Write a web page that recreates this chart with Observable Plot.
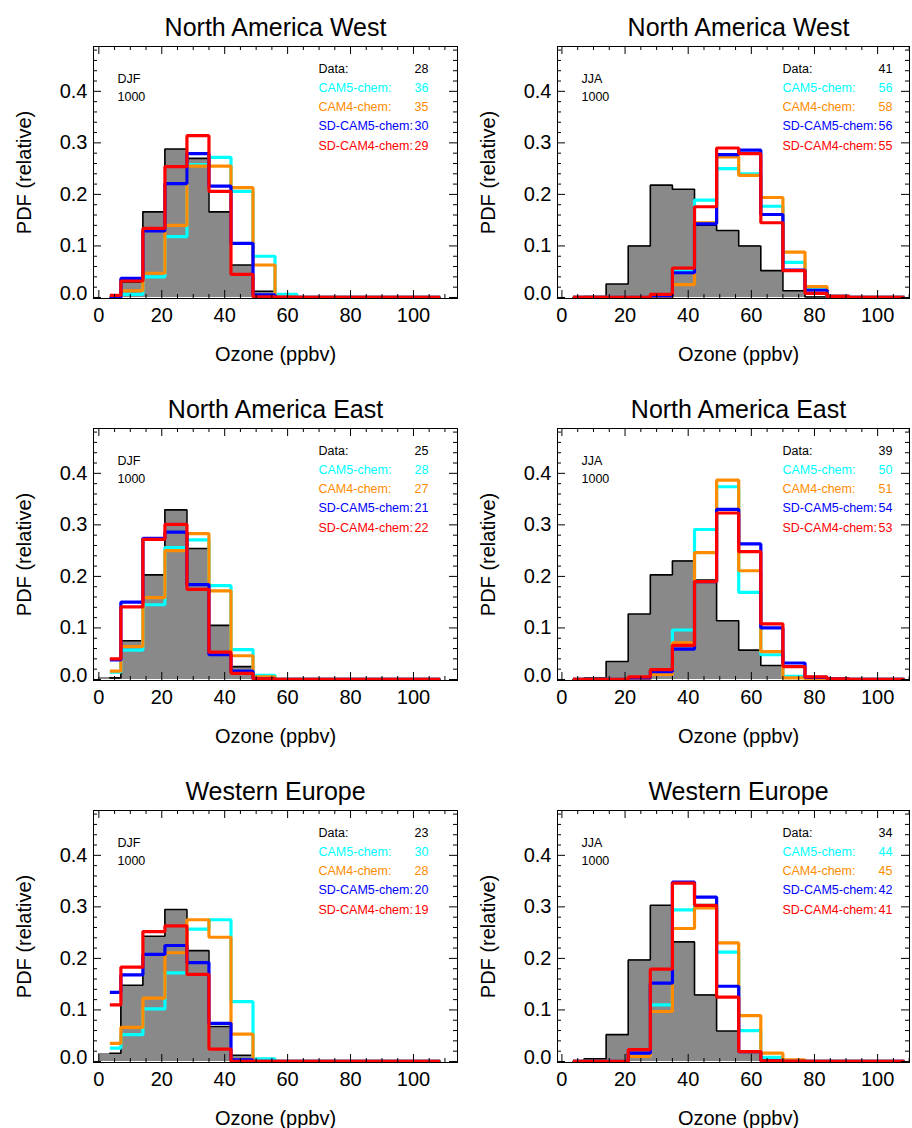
<!DOCTYPE html>
<html><head><meta charset="utf-8">
<script src="https://cdn.jsdelivr.net/npm/d3@7"></script>
<script src="https://cdn.jsdelivr.net/npm/@observablehq/plot@0.6"></script>
<style>
body{margin:0;background:#fff;}
#root{position:relative;width:912px;height:1128px;overflow:hidden;background:#fff;}
#root svg{position:absolute;overflow:visible;}
</style></head>
<body><div id="root"></div>
<script>
// ---------- categories / ticks ----------
const binCenters = [3.5,10.5,17.5,24.5,31.5,38.5,45.5,52.5,59.5,66.5,73.5,80.5,87.5,94.5,101.5,108.5];
const binWidth = 7;
const seriesNames = ["Data:","CAM5-chem:","CAM4-chem:","SD-CAM5-chem:","SD-CAM4-chem:"];
const seriesColors = ["#000000","#00ffff","#ff8c00","#0000ff","#ff0000"];
const regions = ["North America West","North America East","Western Europe"];
const seasons = ["DJF","JJA"];
const levelLabel = "1000";
const xMajorTicks = [0,20,40,60,80,100];
const xMinorTicks = [5,10,15,25,30,35,45,50,55,65,70,75,85,90,95,105,110];
const yMajorTicks = [0,0.1,0.2,0.3,0.4];
const yMinorTicks = [0.02,0.04,0.06,0.08,0.12,0.14,0.16,0.18,0.22,0.24,0.26,0.28,0.32,0.34,0.36,0.38,0.42,0.44,0.46,0.48];

// ---------- North America West, DJF ----------
const nawDjfData   = [0,0.03,0.166,0.288,0.27,0.166,0.063,0.012,0,0,0,0,0,0,0,0];
const nawDjfCam5   = [0.001,0.006,0.04,0.118,0.258,0.272,0.206,0.08,0.006,0,0,0,0,0,0,0];
const nawDjfCam4   = [0.001,0.013,0.047,0.14,0.255,0.255,0.213,0.063,0.001,0,0,0,0,0,0,0];
const nawDjfSdCam5 = [0,0.037,0.129,0.221,0.279,0.216,0.105,0.005,0,0,0,0,0,0,0,0];
const nawDjfSdCam4 = [0.004,0.032,0.134,0.254,0.314,0.206,0.045,0.001,0,0,0,0,0,0,0,0];
const nawDjfMeans  = [28,36,35,30,29];
// ---------- North America West, JJA ----------
const nawJjaData   = [0,0.002,0.026,0.1,0.218,0.21,0.14,0.13,0.1,0.052,0.013,0.001,0,0,0,0];
const nawJjaCam5   = [0,0,0,0,0.003,0.052,0.189,0.25,0.24,0.177,0.068,0.016,0.002,0,0,0];
const nawJjaCam4   = [0,0,0,0,0,0.025,0.145,0.273,0.237,0.194,0.088,0.021,0.002,0,0,0];
const nawJjaSdCam5 = [0,0,0,0,0.003,0.048,0.143,0.277,0.286,0.161,0.053,0.014,0.002,0,0,0];
const nawJjaSdCam4 = [0,0,0,0,0.006,0.057,0.176,0.29,0.279,0.145,0.052,0.008,0.002,0,0,0];
const nawJjaMeans  = [41,56,58,56,55];
// ---------- North America East, DJF ----------
const naeDjfData   = [0.003,0.075,0.203,0.329,0.254,0.105,0.025,0.001,0,0,0,0,0,0,0,0];
const naeDjfCam5   = [0.014,0.057,0.145,0.256,0.271,0.182,0.058,0.008,0,0,0,0,0,0,0,0];
const naeDjfCam4   = [0.016,0.064,0.159,0.25,0.283,0.172,0.046,0.005,0,0,0,0,0,0,0,0];
const naeDjfSdCam5 = [0.038,0.15,0.274,0.286,0.184,0.048,0.016,0.001,0,0,0,0,0,0,0,0];
const naeDjfSdCam4 = [0.04,0.141,0.272,0.301,0.175,0.053,0.012,0.001,0,0,0,0,0,0,0,0];
const naeDjfMeans  = [25,28,27,21,22];
// ---------- North America East, JJA ----------
const naeJjaData   = [0,0.003,0.035,0.127,0.203,0.23,0.193,0.114,0.057,0.027,0.005,0.001,0,0,0,0];
const naeJjaCam5   = [0,0,0,0.001,0.014,0.096,0.291,0.374,0.169,0.048,0.006,0.001,0,0,0,0];
const naeJjaCam4   = [0,0,0,0.001,0.01,0.071,0.246,0.387,0.211,0.054,0.003,0.001,0,0,0,0];
const naeJjaSdCam5 = [0,0,0,0.003,0.015,0.059,0.19,0.33,0.263,0.1,0.032,0.004,0.001,0,0,0];
const naeJjaSdCam4 = [0,0,0,0.005,0.019,0.066,0.19,0.323,0.248,0.108,0.025,0.005,0.001,0,0,0];
const naeJjaMeans  = [39,50,51,54,53];
// ---------- Western Europe, DJF ----------
const weuDjfData   = [0.016,0.148,0.243,0.295,0.215,0.068,0.012,0.001,0,0,0,0,0,0,0,0];
const weuDjfCam5   = [0.026,0.052,0.102,0.172,0.257,0.275,0.116,0.005,0,0,0,0,0,0,0,0];
const weuDjfCam4   = [0.035,0.066,0.123,0.211,0.275,0.241,0.053,0,0,0,0,0,0,0,0,0];
const weuDjfSdCam5 = [0.134,0.168,0.208,0.225,0.192,0.074,0.003,0,0,0,0,0,0,0,0,0];
const weuDjfSdCam4 = [0.11,0.183,0.252,0.263,0.169,0.024,0,0,0,0,0,0,0,0,0,0];
const weuDjfMeans  = [23,30,28,20,19];
// ---------- Western Europe, JJA ----------
const weuJjaData   = [0,0.005,0.052,0.197,0.303,0.232,0.129,0.059,0.019,0.003,0,0,0,0,0,0];
const weuJjaCam5   = [0,0,0,0.01,0.11,0.294,0.303,0.212,0.06,0.008,0.001,0,0,0,0,0];
const weuJjaCam4   = [0,0,0,0.01,0.097,0.258,0.298,0.23,0.089,0.016,0.003,0,0,0,0,0];
const weuJjaSdCam5 = [0,0,0,0.016,0.152,0.348,0.319,0.146,0.019,0.001,0,0,0,0,0,0];
const weuJjaSdCam4 = [0,0,0,0.023,0.179,0.346,0.303,0.125,0.019,0.001,0,0,0,0,0,0];
const weuJjaMeans  = [34,44,45,42,41];

// ---------- panels ----------
const panels = [
  {row:0,col:0,region:regions[0],season:seasons[0],series:[nawDjfData,nawDjfCam5,nawDjfCam4,nawDjfSdCam5,nawDjfSdCam4],means:nawDjfMeans},
  {row:0,col:1,region:regions[0],season:seasons[1],series:[nawJjaData,nawJjaCam5,nawJjaCam4,nawJjaSdCam5,nawJjaSdCam4],means:nawJjaMeans},
  {row:1,col:0,region:regions[1],season:seasons[0],series:[naeDjfData,naeDjfCam5,naeDjfCam4,naeDjfSdCam5,naeDjfSdCam4],means:naeDjfMeans},
  {row:1,col:1,region:regions[1],season:seasons[1],series:[naeJjaData,naeJjaCam5,naeJjaCam4,naeJjaSdCam5,naeJjaSdCam4],means:naeJjaMeans},
  {row:2,col:0,region:regions[2],season:seasons[0],series:[weuDjfData,weuDjfCam5,weuDjfCam4,weuDjfSdCam5,weuDjfSdCam4],means:weuDjfMeans},
  {row:2,col:1,region:regions[2],season:seasons[1],series:[weuJjaData,weuJjaCam5,weuJjaCam4,weuJjaSdCam5,weuJjaSdCam4],means:weuJjaMeans}
];

const FONT = "'Liberation Sans', Arial, Helvetica, sans-serif";
const ROW_STEP = 382;
const layout = [
  {left:0,   width:470, marginLeft:93, marginRight:13, xDomain:[-1.7,114.0], titleDx:0},
  {left:470, width:442, marginLeft:87, marginRight:3,  xDomain:[-1.4,110.1], titleDx:5}
];
const root = document.getElementById("root");

for (const p of panels) {
  const L = layout[p.col];
  const top = p.row * ROW_STEP;
  const height = Math.min(ROW_STEP, 1128 - top);
  const marginTop = 46, marginBottom = height - marginTop - 252;
  const frameH = height - marginTop - marginBottom;
  const frameW = L.width - L.marginLeft - L.marginRight;

  const table = [];
  p.series.forEach((vals, s) => vals.forEach((v, i) => table.push({x: binCenters[i], y: v, s})));
  const obs = table.filter(d => d.s === 0);

  const marks = [
    Plot.rectY(obs, {x1: d => d.x - binWidth/2, x2: d => d.x + binWidth/2, y: "y", fill: "#898989", shapeRendering: "crispEdges"}),
    Plot.line(obs, {x: "x", y: "y", stroke: "#000", strokeWidth: 1.6, curve: "step", strokeLinejoin: "miter"})
  ];
  for (let s = 1; s < 5; s++) {
    marks.push(Plot.line(table.filter(d => d.s === s), {x: "x", y: "y", stroke: seriesColors[s], strokeWidth: 3.2, curve: "step", strokeLinejoin: "miter", strokeLinecap: "butt"}));
  }
  const xMinor = xMinorTicks.filter(v => v <= L.xDomain[1]);
  // IDL-style inward ticks on all four sides
  marks.push(
    Plot.ruleX(xMajorTicks, {stroke: "#000", insetTop: frameH - 8}),
    Plot.ruleX(xMajorTicks, {stroke: "#000", insetBottom: frameH - 8}),
    Plot.ruleX(xMinor, {stroke: "#000", insetTop: frameH - 4}),
    Plot.ruleX(xMinor, {stroke: "#000", insetBottom: frameH - 4}),
    Plot.ruleY(yMajorTicks, {stroke: "#000", insetRight: frameW - 8}),
    Plot.ruleY(yMajorTicks, {stroke: "#000", insetLeft: frameW - 8}),
    Plot.ruleY(yMinorTicks, {stroke: "#000", insetRight: frameW - 4}),
    Plot.ruleY(yMinorTicks, {stroke: "#000", insetLeft: frameW - 4}),
    Plot.frame({stroke: "#000", strokeWidth: 1})
  );
  // y tick labels (the bottom one sits a little higher, as in the original)
  marks.push(
    Plot.axisY(yMajorTicks.slice(1), {tickSize: 0, tickPadding: 6, tickFormat: ".1f", label: null}),
    Plot.axisY(yMajorTicks.slice(0, 1), {tickSize: 0, tickPadding: 6, tickFormat: ".1f", label: null, dy: -4})
  );
  // legend / annotations
  marks.push(
    Plot.text([p.season], {frameAnchor: "top-left", dx: 24, dy: 36, textAnchor: "start", lineAnchor: "bottom", fontSize: 12.5, fill: "#000"}),
    Plot.text([levelLabel], {frameAnchor: "top-left", dx: 24, dy: 54, textAnchor: "start", lineAnchor: "bottom", fontSize: 12.5, fill: "#000"})
  );
  seriesNames.forEach((name, s) => {
    const dy = 26 + s * 19.3;
    marks.push(
      Plot.text([name], {frameAnchor: "top-left", dx: 225, dy, textAnchor: "start", lineAnchor: "bottom", fontSize: 12.5, fill: seriesColors[s]}),
      Plot.text([String(p.means[s])], {frameAnchor: "top-left", dx: 335, dy, textAnchor: "end", lineAnchor: "bottom", fontSize: 12.5, fill: seriesColors[s]})
    );
  });
  // title & axis titles
  marks.push(
    Plot.text([p.region], {frameAnchor: "top", dx: L.titleDx, dy: -11, lineAnchor: "bottom", fontSize: 25, fill: "#000"}),
    Plot.text(["Ozone (ppbv)"], {frameAnchor: "bottom", dx: L.titleDx, dy: 62, lineAnchor: "bottom", fontSize: 20, fill: "#000"}),
    Plot.text(["PDF (relative)"], {frameAnchor: "left", dx: -63, rotate: -90, lineAnchor: "bottom", textAnchor: "middle", fontSize: 20, fill: "#000"})
  );

  const svg = Plot.plot({
    width: L.width, height,
    marginLeft: L.marginLeft, marginRight: L.marginRight, marginTop, marginBottom,
    style: {fontFamily: FONT, fontSize: "20px", background: "transparent", color: "#000", overflow: "visible"},
    x: {domain: L.xDomain, ticks: xMajorTicks, tickFormat: d => String(d), tickSize: 0, tickPadding: 9, label: null},
    y: {domain: [-0.002, 0.487], label: null},
    marks
  });
  svg.style.left = L.left + "px";
  svg.style.top = top + "px";
  root.appendChild(svg);
}
</script>
</body></html>
